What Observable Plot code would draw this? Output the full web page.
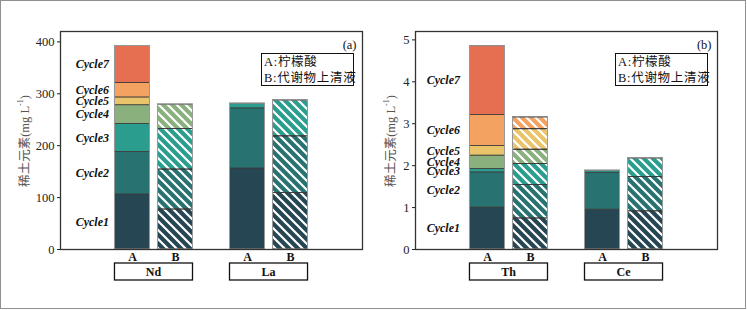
<!DOCTYPE html>
<html><head><meta charset="utf-8">
<script src="https://cdn.jsdelivr.net/npm/d3@7"></script>
<script src="https://cdn.jsdelivr.net/npm/@observablehq/plot@0.6"></script>
<style>
body{margin:0;background:#fff;}
#wrap{position:relative;width:747px;height:310px;overflow:hidden;background:#fff}
#border{position:absolute;left:0;top:0;width:746px;height:309px;border:1.5px solid #8f8f8f;box-sizing:border-box}
.panel{position:absolute;top:0}
.legend{position:absolute;border:1.2px solid #111;font-family:"Liberation Serif","Noto Sans CJK SC";font-size:12.5px;line-height:16px;padding:0 2px;box-sizing:border-box;color:#111;background:#fff;white-space:nowrap;letter-spacing:0.7px}
.ylab{position:absolute;transform:translate(-50%,-50%) rotate(-90deg);white-space:nowrap;font-family:"Liberation Serif","Noto Sans CJK SC";font-size:12.5px;color:#555}
.ylab sup{font-size:8px}
</style></head>
<body>
<svg width="0" height="0" style="position:absolute">
  <defs>
    <pattern id="hatch" patternUnits="userSpaceOnUse" width="9" height="9">
      <path d="M-1,-1 L10,10 M-1,8 L1,10 M8,-1 L10,1" stroke="#fff" stroke-width="2.2" fill="none"/>
    </pattern>
  </defs>
</svg>
<div id="wrap"><div id="border"></div></div>
<script>
// ---- data ----
const cycles = ["Cycle1","Cycle2","Cycle3","Cycle4","Cycle5","Cycle6","Cycle7"];
const cycleColors = ["#264653","#287271","#2a9d8f","#8ab17d","#e9c46a","#f4a261","#e76f51"];
const samples = ["A","B"];
const sampleNames = ["柠檬酸","代谢物上清液"];
const elementsA = ["Nd","La"];
const elementsB = ["Th","Ce"];
// per-cycle amounts (mg L-1)
const ndA = [106, 82, 54, 36, 15, 28, 71];
const ndB = [77, 77, 78, 47, 0, 0, 0];
const laA = [156, 116, 9, 0, 0, 0, 0];
const laB = [109, 109, 69, 0, 0, 0, 0];
const thA = [1.00, 0.84, 0.08, 0.32, 0.23, 0.74, 1.64];
const thB = [0.74, 0.80, 0.50, 0.34, 0.49, 0.28, 0];
const ceA = [0.95, 0.88, 0.05, 0, 0, 0, 0];
const ceB = [0.91, 0.82, 0.44, 0, 0, 0, 0];
const ticksA = [0, 100, 200, 300, 400];
const ticksB = [0, 1, 2, 3, 4, 5];
const yLabel = "稀土元素";
const panelTags = ["(a)", "(b)"];

// ---- layout ----
const groupOffset = 1.337, memberOffset = 0.5, half = 0.407;
const wrap = document.getElementById("wrap");

function makePanel({elements, series, yMax, ticks, tag, left, width, marginRight, labelDx, ylabX, legendX}) {
  const segs = [], bars = [];
  elements.forEach((el, gi) => {
    samples.forEach((s, si) => {
      const vals = series[gi][si];
      const pos = (gi ? 1 : -1) * groupOffset + (si ? 1 : -1) * memberOffset;
      const tops = d3.cumsum(vals);
      vals.forEach((v, ci) => {
        if (v > 0) segs.push({el, gi, s, si, ci, pos, y1: tops[ci] - v, y2: tops[ci]});
      });
      bars.push({el, gi, s, si, pos, total: tops[tops.length - 1]});
    });
  });
  const groups = elements.map((el, gi) => ({el, center: (gi ? 1 : -1) * groupOffset}));

  const plot = Plot.plot({
    width, height: 300,
    marginLeft: 60, marginRight, marginTop: 31, marginBottom: 51,
    style: {fontFamily: "Liberation Serif, Noto Sans CJK SC", fontSize: "12.5px", color: "#222", background: "transparent"},
    x: {domain: [-3.51, 3.51], axis: null},
    y: {domain: [0, yMax], axis: null},
    marks: [
      Plot.rect(segs, {x1: d => d.pos - half, x2: d => d.pos + half, y1: "y1", y2: "y2",
        fill: d => cycleColors[d.ci], stroke: "#3a3a3a", strokeWidth: 0.8}),
      Plot.rect(segs.filter(d => d.si === 1), {x1: d => d.pos - half, x2: d => d.pos + half, y1: "y1", y2: "y2",
        fill: "url(#hatch)"}),
      Plot.rect(segs.filter(d => d.si === 1), {x1: d => d.pos - half, x2: d => d.pos + half, y1: "y1", y2: "y2",
        fill: "none", stroke: "#3a3a3a", strokeWidth: 0.8}),
      Plot.rect(bars, {x1: d => d.pos - half, x2: d => d.pos + half, y1: 0, y2: "total",
        fill: "none", stroke: "#9a9a9a", strokeWidth: 1}),
      Plot.text(segs.filter(d => d.gi === 0 && d.si === 0), {x: d => d.pos - half, y: d => (d.y1 + d.y2) / 2,
        text: d => cycles[d.ci], textAnchor: "end", dx: labelDx, fontWeight: "bold", fontStyle: "italic", fontSize: 12, fill: "#111"}),
      Plot.text(bars, {x: "pos", text: "s", frameAnchor: "bottom", lineAnchor: "middle", dy: 8, fontWeight: "bold", fontSize: 12, fill: "#111"}),
      Plot.text([tag], {text: d => d, frameAnchor: "top-right", textAnchor: "end", lineAnchor: "middle", dx: -6, dy: 13, fill: "#111"}),
      Plot.axisY({ticks, tickSize: 3, tickPadding: 3, tickFormat: d => String(d), label: null}),
      Plot.frame({stroke: "#333", strokeWidth: 1.3})
    ]
  });

  // group label boxes below the A/B labels, positioned with the plot's x scale
  const xs = plot.scale("x");
  const svg = d3.select(plot);
  const yTop = 300 - 51 + 14;
  const gBox = svg.append("g");
  groups.forEach(g => {
    const x1 = xs.apply(g.center - memberOffset - half), x2 = xs.apply(g.center + memberOffset + half);
    gBox.append("rect").attr("x", x1).attr("y", yTop).attr("width", x2 - x1).attr("height", 17)
      .attr("fill", "#fff").attr("stroke", "#111").attr("stroke-width", 1.3);
    gBox.append("text").attr("x", (x1 + x2) / 2).attr("y", yTop + 8.5).attr("dy", "0.35em")
      .attr("text-anchor", "middle").attr("font-weight", "bold").attr("font-size", 12).attr("fill", "#111")
      .text(g.el);
  });

  plot.classList.add("panel");
  plot.style.left = left + "px";
  wrap.appendChild(plot);

  const yl = document.createElement("div");
  yl.className = "ylab";
  yl.style.left = ylabX + "px";
  yl.style.top = "141px";
  yl.innerHTML = yLabel + "(mg L<sup>-1</sup>)";
  wrap.appendChild(yl);

  const lg = document.createElement("div");
  lg.className = "legend";
  lg.style.left = legendX + "px";
  lg.style.top = "53px";
  lg.style.width = "93px";
  lg.style.height = "33px";
  lg.innerHTML = samples.map((s, i) => `<div>${s}:${sampleNames[i]}</div>`).join("");
  wrap.appendChild(lg);
}

makePanel({elements: elementsA, series: [[ndA, ndB], [laA, laB]], yMax: 420, ticks: ticksA, tag: panelTags[0],
  left: 0, width: 372, marginRight: 10, labelDx: -6, ylabX: 23, legendX: 261});
makePanel({elements: elementsB, series: [[thA, thB], [ceA, ceB]], yMax: 5.2, ticks: ticksB, tag: panelTags[1],
  left: 355, width: 392, marginRight: 30, labelDx: -10, ylabX: 389, legendX: 615});
</script>
</body></html>
